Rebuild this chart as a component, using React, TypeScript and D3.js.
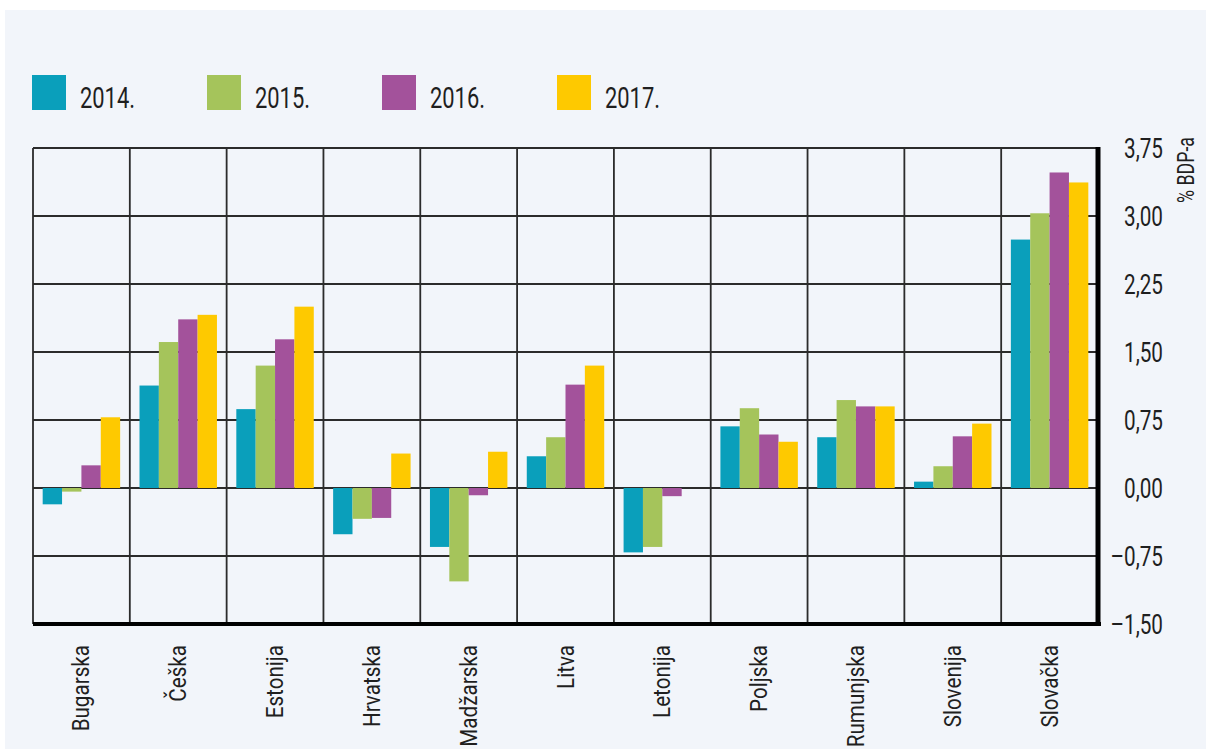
import React from 'react';
import * as d3 from 'd3';

const countries = ['Bugarska', 'Češka', 'Estonija', 'Hrvatska', 'Madžarska', 'Litva', 'Letonija', 'Poljska', 'Rumunjska', 'Slovenija', 'Slovačka'];
const years = ['2014.', '2015.', '2016.', '2017.'];
const v2014 = [-0.18, 1.13, 0.87, -0.51, -0.65, 0.35, -0.71, 0.68, 0.56, 0.07, 2.74];
const v2015 = [-0.04, 1.61, 1.35, -0.34, -1.03, 0.56, -0.65, 0.88, 0.97, 0.24, 3.03];
const v2016 = [0.25, 1.86, 1.64, -0.33, -0.08, 1.14, -0.09, 0.59, 0.9, 0.57, 3.48];
const v2017 = [0.78, 1.91, 2.0, 0.38, 0.4, 1.35, 0.0, 0.51, 0.9, 0.71, 3.37];
const yTicks = [-1.5, -0.75, 0, 0.75, 1.5, 2.25, 3, 3.75];
const yTickLabels = ['–1,50', '–0,75', '0,00', '0,75', '1,50', '2,25', '3,00', '3,75'];
const colors = ['#0a9fbb', '#a5c45b', '#a3529b', '#fec900'];
const unitLabel = '% BDP-a';

const series = [v2014, v2015, v2016, v2017];
const font = 'Roboto, "Liberation Sans", sans-serif';
const ink = '#1f1f1f';

const App = () => {
  const width = 1206;
  const height = 749;
  const plot = { left: 33, right: 1098, top: 148, bottom: 624 };

  const x0 = d3.scaleBand().domain(countries).range([plot.left, plot.right]);
  const x1 = d3.scaleBand().domain(years).range([0, x0.bandwidth()]).paddingOuter(0.5);
  const y = d3.scaleLinear().domain([-1.5, 3.75]).range([plot.bottom, plot.top]);

  // band boundaries for the vertical grid lines
  const vLines = countries.map((c) => x0(c) as number);

  return (
    <div style={{ position: 'absolute', left: 0, top: 0 }}>
      <svg width={width} height={height} style={{ display: 'block' }}>
        <rect x={0} y={0} width={width} height={height} fill="#ffffff" />
        <rect x={5} y={10} width={width - 5} height={height - 10} fill="#f2f5fa" />

        {/* legend */}
        {years.map((yr, i) => (
          <g key={yr} transform={`translate(${32 + i * 175},75)`}>
            <rect width={34} height={35} fill={colors[i]} />
            <g transform="translate(48,33) scale(0.73,1)">
              <text fontFamily={font} fontSize={30} fill={ink}>{yr}</text>
            </g>
          </g>
        ))}

        {/* grid */}
        {yTicks.map((t) => (
          <line key={t} x1={plot.left} x2={plot.right} y1={y(t)} y2={y(t)} stroke="#2b2b2b" strokeWidth={1.8} />
        ))}
        {vLines.map((vx, i) => (
          <line key={i} x1={vx} x2={vx} y1={plot.top} y2={plot.bottom} stroke="#2b2b2b" strokeWidth={1.8} />
        ))}

        {/* bars */}
        {countries.map((c, ci) => (
          <g key={c} transform={`translate(${x0(c)},0)`}>
            {series.map((s, si) => {
              const v = s[ci];
              const y0 = y(0);
              const yv = y(v);
              return (
                <rect
                  key={si}
                  x={x1(years[si])}
                  width={x1.bandwidth()}
                  y={Math.min(y0, yv)}
                  height={Math.abs(yv - y0)}
                  fill={colors[si]}
                />
              );
            })}
          </g>
        ))}

        {/* zero line segments between bars stay visible via grid; frame */}
        <line x1={plot.left} x2={plot.right + 3} y1={plot.bottom} y2={plot.bottom} stroke="#000" strokeWidth={4} />
        <line x1={plot.right} x2={plot.right} y1={plot.top - 1} y2={plot.bottom + 2} stroke="#000" strokeWidth={5} />

        {/* y tick labels */}
        {yTicks.map((t, i) => (
          <g key={t} transform={`translate(1163,${y(t) + 10}) scale(0.74,1)`}>
            <text fontFamily={font} fontSize={28} fill={ink} textAnchor="end">{yTickLabels[i]}</text>
          </g>
        ))}
        <g transform="translate(1194,137) rotate(-90) scale(0.74,1)">
          <text fontFamily={font} fontSize={24} fill={ink} textAnchor="end">{unitLabel}</text>
        </g>

        {/* category labels */}
        {countries.map((c) => (
          <g key={c} transform={`translate(${(x0(c) as number) + x0.bandwidth() / 2 + 8},645) rotate(-90) scale(0.86,1)`}>
            <text fontFamily={font} fontSize={24} fill={ink} textAnchor="end">{c}</text>
          </g>
        ))}
      </svg>
    </div>
  );
};

export default App;
